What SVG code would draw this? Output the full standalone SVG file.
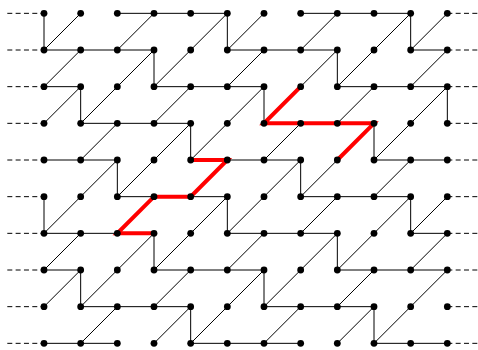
<svg xmlns="http://www.w3.org/2000/svg" width="478" height="350" viewBox="0 0 478 350">
<style>
.e{stroke:#000;stroke-width:1;fill:none}
.d{stroke:#000;stroke-width:1;stroke-dasharray:5 3.33;fill:none}
.r{stroke:#f00;stroke-width:4;fill:none;stroke-linejoin:miter}
.n circle{fill:#000}
</style>
<rect width="478" height="350" fill="#fff"/>
<g id="connectors">
<g id="dashes">
<line class="d" x1="7.3" y1="13.33" x2="44" y2="13.33"/><line class="d" x1="447.33" y1="13.33" x2="478" y2="13.33"/>
<line class="d" x1="7.3" y1="50" x2="44" y2="50"/><line class="d" x1="447.33" y1="50" x2="478" y2="50"/>
<line class="d" x1="7.3" y1="86.67" x2="44" y2="86.67"/><line class="d" x1="447.33" y1="86.67" x2="478" y2="86.67"/>
<line class="d" x1="7.3" y1="123.33" x2="44" y2="123.33"/><line class="d" x1="447.33" y1="123.33" x2="478" y2="123.33"/>
<line class="d" x1="7.3" y1="160" x2="44" y2="160"/><line class="d" x1="447.33" y1="160" x2="478" y2="160"/>
<line class="d" x1="7.3" y1="196.67" x2="44" y2="196.67"/><line class="d" x1="447.33" y1="196.67" x2="478" y2="196.67"/>
<line class="d" x1="7.3" y1="233.33" x2="44" y2="233.33"/><line class="d" x1="447.33" y1="233.33" x2="478" y2="233.33"/>
<line class="d" x1="7.3" y1="270" x2="44" y2="270"/><line class="d" x1="447.33" y1="270" x2="478" y2="270"/>
<line class="d" x1="7.3" y1="306.67" x2="44" y2="306.67"/><line class="d" x1="447.33" y1="306.67" x2="478" y2="306.67"/>
<line class="d" x1="7.3" y1="343.33" x2="44" y2="343.33"/><line class="d" x1="447.33" y1="343.33" x2="478" y2="343.33"/>
</g>
<g id="horizontal">
<line class="e" x1="117.33" y1="13.33" x2="227.33" y2="13.33"/><line class="e" x1="300.67" y1="13.33" x2="410.67" y2="13.33"/>
<line class="e" x1="44" y1="50" x2="154" y2="50"/><line class="e" x1="227.33" y1="50" x2="337.33" y2="50"/><line class="e" x1="410.67" y1="50" x2="447.33" y2="50"/>
<line class="e" x1="44" y1="86.67" x2="80.67" y2="86.67"/><line class="e" x1="154" y1="86.67" x2="264" y2="86.67"/><line class="e" x1="337.33" y1="86.67" x2="447.33" y2="86.67"/>
<line class="e" x1="80.67" y1="123.33" x2="190.67" y2="123.33"/>
<line class="e" x1="44" y1="160" x2="117.33" y2="160"/><line class="e" x1="227.33" y1="160" x2="300.67" y2="160"/><line class="e" x1="374" y1="160" x2="447.33" y2="160"/>
<line class="e" x1="117.33" y1="196.67" x2="154" y2="196.67"/><line class="e" x1="190.67" y1="196.67" x2="227.33" y2="196.67"/><line class="e" x1="300.67" y1="196.67" x2="410.67" y2="196.67"/>
<line class="e" x1="44" y1="233.33" x2="117.33" y2="233.33"/><line class="e" x1="227.33" y1="233.33" x2="337.33" y2="233.33"/><line class="e" x1="410.67" y1="233.33" x2="447.33" y2="233.33"/>
<line class="e" x1="44" y1="270" x2="80.67" y2="270"/><line class="e" x1="154" y1="270" x2="264" y2="270"/><line class="e" x1="337.33" y1="270" x2="447.33" y2="270"/>
<line class="e" x1="80.67" y1="306.67" x2="190.67" y2="306.67"/><line class="e" x1="264" y1="306.67" x2="374" y2="306.67"/>
<line class="e" x1="44" y1="343.33" x2="117.33" y2="343.33"/><line class="e" x1="190.67" y1="343.33" x2="300.67" y2="343.33"/><line class="e" x1="374" y1="343.33" x2="447.33" y2="343.33"/>
</g>
<g id="vertical">
<line class="e" x1="44" y1="13.33" x2="44" y2="50"/><line class="e" x1="227.33" y1="13.33" x2="227.33" y2="50"/><line class="e" x1="410.67" y1="13.33" x2="410.67" y2="50"/>
<line class="e" x1="154" y1="50" x2="154" y2="86.67"/><line class="e" x1="337.33" y1="50" x2="337.33" y2="86.67"/>
<line class="e" x1="80.67" y1="86.67" x2="80.67" y2="123.33"/><line class="e" x1="264" y1="86.67" x2="264" y2="123.33"/><line class="e" x1="447.33" y1="86.67" x2="447.33" y2="123.33"/>
<line class="e" x1="190.67" y1="123.33" x2="190.67" y2="160"/><line class="e" x1="374" y1="123.33" x2="374" y2="160"/>
<line class="e" x1="117.33" y1="160" x2="117.33" y2="196.67"/><line class="e" x1="300.67" y1="160" x2="300.67" y2="196.67"/>
<line class="e" x1="44" y1="196.67" x2="44" y2="233.33"/><line class="e" x1="227.33" y1="196.67" x2="227.33" y2="233.33"/><line class="e" x1="410.67" y1="196.67" x2="410.67" y2="233.33"/>
<line class="e" x1="154" y1="233.33" x2="154" y2="270"/><line class="e" x1="337.33" y1="233.33" x2="337.33" y2="270"/>
<line class="e" x1="80.67" y1="270" x2="80.67" y2="306.67"/><line class="e" x1="264" y1="270" x2="264" y2="306.67"/>
<line class="e" x1="190.67" y1="306.67" x2="190.67" y2="343.33"/><line class="e" x1="374" y1="306.67" x2="374" y2="343.33"/>
</g>
<g id="diagonal">
<line class="e" x1="44" y1="50" x2="80.67" y2="13.33"/><line class="e" x1="117.33" y1="50" x2="154" y2="13.33"/><line class="e" x1="190.67" y1="50" x2="227.33" y2="13.33"/><line class="e" x1="227.33" y1="50" x2="264" y2="13.33"/><line class="e" x1="300.67" y1="50" x2="337.33" y2="13.33"/><line class="e" x1="374" y1="50" x2="410.67" y2="13.33"/><line class="e" x1="410.67" y1="50" x2="447.33" y2="13.33"/>
<line class="e" x1="44" y1="86.67" x2="80.67" y2="50"/><line class="e" x1="117.33" y1="86.67" x2="154" y2="50"/><line class="e" x1="154" y1="86.67" x2="190.67" y2="50"/><line class="e" x1="227.33" y1="86.67" x2="264" y2="50"/><line class="e" x1="300.67" y1="86.67" x2="337.33" y2="50"/><line class="e" x1="337.33" y1="86.67" x2="374" y2="50"/><line class="e" x1="410.67" y1="86.67" x2="447.33" y2="50"/>
<line class="e" x1="44" y1="123.33" x2="80.67" y2="86.67"/><line class="e" x1="80.67" y1="123.33" x2="117.33" y2="86.67"/><line class="e" x1="154" y1="123.33" x2="190.67" y2="86.67"/><line class="e" x1="227.33" y1="123.33" x2="264" y2="86.67"/><line class="e" x1="337.33" y1="123.33" x2="374" y2="86.67"/><line class="e" x1="410.67" y1="123.33" x2="447.33" y2="86.67"/>
<line class="e" x1="80.67" y1="160" x2="117.33" y2="123.33"/><line class="e" x1="154" y1="160" x2="190.67" y2="123.33"/><line class="e" x1="190.67" y1="160" x2="227.33" y2="123.33"/><line class="e" x1="264" y1="160" x2="300.67" y2="123.33"/><line class="e" x1="374" y1="160" x2="410.67" y2="123.33"/>
<line class="e" x1="80.67" y1="196.67" x2="117.33" y2="160"/><line class="e" x1="117.33" y1="196.67" x2="154" y2="160"/><line class="e" x1="264" y1="196.67" x2="300.67" y2="160"/><line class="e" x1="300.67" y1="196.67" x2="337.33" y2="160"/><line class="e" x1="374" y1="196.67" x2="410.67" y2="160"/>
<line class="e" x1="44" y1="233.33" x2="80.67" y2="196.67"/><line class="e" x1="190.67" y1="233.33" x2="227.33" y2="196.67"/><line class="e" x1="227.33" y1="233.33" x2="264" y2="196.67"/><line class="e" x1="300.67" y1="233.33" x2="337.33" y2="196.67"/><line class="e" x1="374" y1="233.33" x2="410.67" y2="196.67"/><line class="e" x1="410.67" y1="233.33" x2="447.33" y2="196.67"/>
<line class="e" x1="44" y1="270" x2="80.67" y2="233.33"/><line class="e" x1="117.33" y1="270" x2="154" y2="233.33"/><line class="e" x1="154" y1="270" x2="190.67" y2="233.33"/><line class="e" x1="227.33" y1="270" x2="264" y2="233.33"/><line class="e" x1="300.67" y1="270" x2="337.33" y2="233.33"/><line class="e" x1="337.33" y1="270" x2="374" y2="233.33"/><line class="e" x1="410.67" y1="270" x2="447.33" y2="233.33"/>
<line class="e" x1="44" y1="306.67" x2="80.67" y2="270"/><line class="e" x1="80.67" y1="306.67" x2="117.33" y2="270"/><line class="e" x1="154" y1="306.67" x2="190.67" y2="270"/><line class="e" x1="227.33" y1="306.67" x2="264" y2="270"/><line class="e" x1="264" y1="306.67" x2="300.67" y2="270"/><line class="e" x1="337.33" y1="306.67" x2="374" y2="270"/><line class="e" x1="410.67" y1="306.67" x2="447.33" y2="270"/>
<line class="e" x1="80.67" y1="343.33" x2="117.33" y2="306.67"/><line class="e" x1="154" y1="343.33" x2="190.67" y2="306.67"/><line class="e" x1="190.67" y1="343.33" x2="227.33" y2="306.67"/><line class="e" x1="264" y1="343.33" x2="300.67" y2="306.67"/><line class="e" x1="337.33" y1="343.33" x2="374" y2="306.67"/><line class="e" x1="374" y1="343.33" x2="410.67" y2="306.67"/>
</g>
<g id="red-paths">
<polyline class="r" points="154,233.33 117.33,233.33 154,196.67 190.67,196.67 227.33,160 190.67,160"/>
<polyline class="r" points="300.67,86.67 264,123.33 374,123.33 337.33,160"/>
</g>
</g>
<g class="n">
<g id="n0_0"><circle cx="44" cy="13.33" r="3.4"/></g><g id="n1_0"><circle cx="80.67" cy="13.33" r="3.4"/></g><g id="n2_0"><circle cx="117.33" cy="13.33" r="3.4"/></g><g id="n3_0"><circle cx="154" cy="13.33" r="3.4"/></g><g id="n4_0"><circle cx="190.67" cy="13.33" r="3.4"/></g><g id="n5_0"><circle cx="227.33" cy="13.33" r="3.4"/></g><g id="n6_0"><circle cx="264" cy="13.33" r="3.4"/></g><g id="n7_0"><circle cx="300.67" cy="13.33" r="3.4"/></g><g id="n8_0"><circle cx="337.33" cy="13.33" r="3.4"/></g><g id="n9_0"><circle cx="374" cy="13.33" r="3.4"/></g><g id="n10_0"><circle cx="410.67" cy="13.33" r="3.4"/></g><g id="n11_0"><circle cx="447.33" cy="13.33" r="3.4"/></g>
<g id="n0_1"><circle cx="44" cy="50" r="3.4"/></g><g id="n1_1"><circle cx="80.67" cy="50" r="3.4"/></g><g id="n2_1"><circle cx="117.33" cy="50" r="3.4"/></g><g id="n3_1"><circle cx="154" cy="50" r="3.4"/></g><g id="n4_1"><circle cx="190.67" cy="50" r="3.4"/></g><g id="n5_1"><circle cx="227.33" cy="50" r="3.4"/></g><g id="n6_1"><circle cx="264" cy="50" r="3.4"/></g><g id="n7_1"><circle cx="300.67" cy="50" r="3.4"/></g><g id="n8_1"><circle cx="337.33" cy="50" r="3.4"/></g><g id="n9_1"><circle cx="374" cy="50" r="3.4"/></g><g id="n10_1"><circle cx="410.67" cy="50" r="3.4"/></g><g id="n11_1"><circle cx="447.33" cy="50" r="3.4"/></g>
<g id="n0_2"><circle cx="44" cy="86.67" r="3.4"/></g><g id="n1_2"><circle cx="80.67" cy="86.67" r="3.4"/></g><g id="n2_2"><circle cx="117.33" cy="86.67" r="3.4"/></g><g id="n3_2"><circle cx="154" cy="86.67" r="3.4"/></g><g id="n4_2"><circle cx="190.67" cy="86.67" r="3.4"/></g><g id="n5_2"><circle cx="227.33" cy="86.67" r="3.4"/></g><g id="n6_2"><circle cx="264" cy="86.67" r="3.4"/></g><g id="n7_2"><circle cx="300.67" cy="86.67" r="3.4"/></g><g id="n8_2"><circle cx="337.33" cy="86.67" r="3.4"/></g><g id="n9_2"><circle cx="374" cy="86.67" r="3.4"/></g><g id="n10_2"><circle cx="410.67" cy="86.67" r="3.4"/></g><g id="n11_2"><circle cx="447.33" cy="86.67" r="3.4"/></g>
<g id="n0_3"><circle cx="44" cy="123.33" r="3.4"/></g><g id="n1_3"><circle cx="80.67" cy="123.33" r="3.4"/></g><g id="n2_3"><circle cx="117.33" cy="123.33" r="3.4"/></g><g id="n3_3"><circle cx="154" cy="123.33" r="3.4"/></g><g id="n4_3"><circle cx="190.67" cy="123.33" r="3.4"/></g><g id="n5_3"><circle cx="227.33" cy="123.33" r="3.4"/></g><g id="n6_3"><circle cx="264" cy="123.33" r="3.4"/></g><g id="n7_3"><circle cx="300.67" cy="123.33" r="3.4"/></g><g id="n8_3"><circle cx="337.33" cy="123.33" r="3.4"/></g><g id="n9_3"><circle cx="374" cy="123.33" r="3.4"/></g><g id="n10_3"><circle cx="410.67" cy="123.33" r="3.4"/></g><g id="n11_3"><circle cx="447.33" cy="123.33" r="3.4"/></g>
<g id="n0_4"><circle cx="44" cy="160" r="3.4"/></g><g id="n1_4"><circle cx="80.67" cy="160" r="3.4"/></g><g id="n2_4"><circle cx="117.33" cy="160" r="3.4"/></g><g id="n3_4"><circle cx="154" cy="160" r="3.4"/></g><g id="n4_4"><circle cx="190.67" cy="160" r="3.4"/></g><g id="n5_4"><circle cx="227.33" cy="160" r="3.4"/></g><g id="n6_4"><circle cx="264" cy="160" r="3.4"/></g><g id="n7_4"><circle cx="300.67" cy="160" r="3.4"/></g><g id="n8_4"><circle cx="337.33" cy="160" r="3.4"/></g><g id="n9_4"><circle cx="374" cy="160" r="3.4"/></g><g id="n10_4"><circle cx="410.67" cy="160" r="3.4"/></g><g id="n11_4"><circle cx="447.33" cy="160" r="3.4"/></g>
<g id="n0_5"><circle cx="44" cy="196.67" r="3.4"/></g><g id="n1_5"><circle cx="80.67" cy="196.67" r="3.4"/></g><g id="n2_5"><circle cx="117.33" cy="196.67" r="3.4"/></g><g id="n3_5"><circle cx="154" cy="196.67" r="3.4"/></g><g id="n4_5"><circle cx="190.67" cy="196.67" r="3.4"/></g><g id="n5_5"><circle cx="227.33" cy="196.67" r="3.4"/></g><g id="n6_5"><circle cx="264" cy="196.67" r="3.4"/></g><g id="n7_5"><circle cx="300.67" cy="196.67" r="3.4"/></g><g id="n8_5"><circle cx="337.33" cy="196.67" r="3.4"/></g><g id="n9_5"><circle cx="374" cy="196.67" r="3.4"/></g><g id="n10_5"><circle cx="410.67" cy="196.67" r="3.4"/></g><g id="n11_5"><circle cx="447.33" cy="196.67" r="3.4"/></g>
<g id="n0_6"><circle cx="44" cy="233.33" r="3.4"/></g><g id="n1_6"><circle cx="80.67" cy="233.33" r="3.4"/></g><g id="n2_6"><circle cx="117.33" cy="233.33" r="3.4"/></g><g id="n3_6"><circle cx="154" cy="233.33" r="3.4"/></g><g id="n4_6"><circle cx="190.67" cy="233.33" r="3.4"/></g><g id="n5_6"><circle cx="227.33" cy="233.33" r="3.4"/></g><g id="n6_6"><circle cx="264" cy="233.33" r="3.4"/></g><g id="n7_6"><circle cx="300.67" cy="233.33" r="3.4"/></g><g id="n8_6"><circle cx="337.33" cy="233.33" r="3.4"/></g><g id="n9_6"><circle cx="374" cy="233.33" r="3.4"/></g><g id="n10_6"><circle cx="410.67" cy="233.33" r="3.4"/></g><g id="n11_6"><circle cx="447.33" cy="233.33" r="3.4"/></g>
<g id="n0_7"><circle cx="44" cy="270" r="3.4"/></g><g id="n1_7"><circle cx="80.67" cy="270" r="3.4"/></g><g id="n2_7"><circle cx="117.33" cy="270" r="3.4"/></g><g id="n3_7"><circle cx="154" cy="270" r="3.4"/></g><g id="n4_7"><circle cx="190.67" cy="270" r="3.4"/></g><g id="n5_7"><circle cx="227.33" cy="270" r="3.4"/></g><g id="n6_7"><circle cx="264" cy="270" r="3.4"/></g><g id="n7_7"><circle cx="300.67" cy="270" r="3.4"/></g><g id="n8_7"><circle cx="337.33" cy="270" r="3.4"/></g><g id="n9_7"><circle cx="374" cy="270" r="3.4"/></g><g id="n10_7"><circle cx="410.67" cy="270" r="3.4"/></g><g id="n11_7"><circle cx="447.33" cy="270" r="3.4"/></g>
<g id="n0_8"><circle cx="44" cy="306.67" r="3.4"/></g><g id="n1_8"><circle cx="80.67" cy="306.67" r="3.4"/></g><g id="n2_8"><circle cx="117.33" cy="306.67" r="3.4"/></g><g id="n3_8"><circle cx="154" cy="306.67" r="3.4"/></g><g id="n4_8"><circle cx="190.67" cy="306.67" r="3.4"/></g><g id="n5_8"><circle cx="227.33" cy="306.67" r="3.4"/></g><g id="n6_8"><circle cx="264" cy="306.67" r="3.4"/></g><g id="n7_8"><circle cx="300.67" cy="306.67" r="3.4"/></g><g id="n8_8"><circle cx="337.33" cy="306.67" r="3.4"/></g><g id="n9_8"><circle cx="374" cy="306.67" r="3.4"/></g><g id="n10_8"><circle cx="410.67" cy="306.67" r="3.4"/></g><g id="n11_8"><circle cx="447.33" cy="306.67" r="3.4"/></g>
<g id="n0_9"><circle cx="44" cy="343.33" r="3.4"/></g><g id="n1_9"><circle cx="80.67" cy="343.33" r="3.4"/></g><g id="n2_9"><circle cx="117.33" cy="343.33" r="3.4"/></g><g id="n3_9"><circle cx="154" cy="343.33" r="3.4"/></g><g id="n4_9"><circle cx="190.67" cy="343.33" r="3.4"/></g><g id="n5_9"><circle cx="227.33" cy="343.33" r="3.4"/></g><g id="n6_9"><circle cx="264" cy="343.33" r="3.4"/></g><g id="n7_9"><circle cx="300.67" cy="343.33" r="3.4"/></g><g id="n8_9"><circle cx="337.33" cy="343.33" r="3.4"/></g><g id="n9_9"><circle cx="374" cy="343.33" r="3.4"/></g><g id="n10_9"><circle cx="410.67" cy="343.33" r="3.4"/></g><g id="n11_9"><circle cx="447.33" cy="343.33" r="3.4"/></g>
</g>
</svg>
